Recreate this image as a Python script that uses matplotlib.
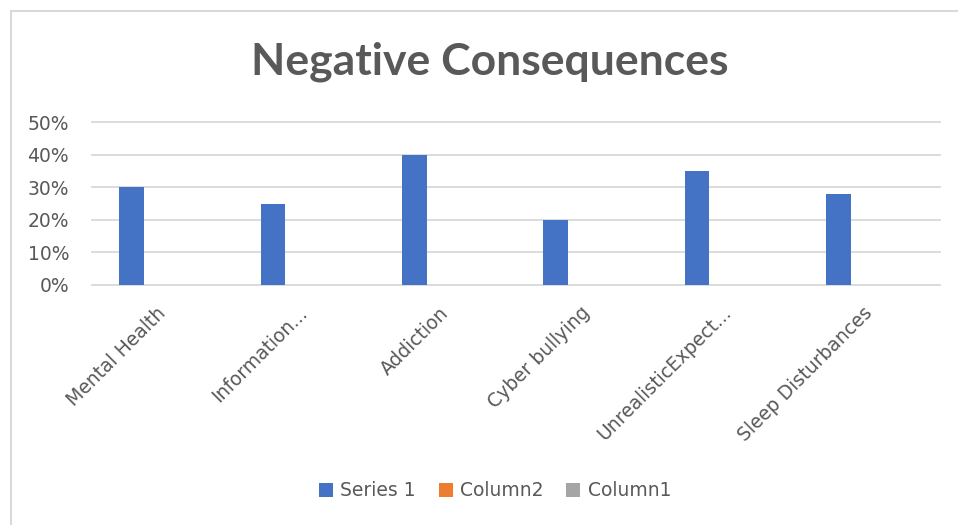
import matplotlib
matplotlib.use('Agg')
import matplotlib.pyplot as plt
from matplotlib.lines import Line2D
from matplotlib.patches import Patch
from matplotlib.ticker import PercentFormatter
import numpy as np

categories = ['Mental Health', 'Information...', 'Addiction', 'Cyber bullying',
              'UnrealisticExpect...', 'Sleep Disturbances']
series1 = [0.30, 0.25, 0.40, 0.20, 0.35, 0.28]
column2 = [0, 0, 0, 0, 0, 0]
column1 = [0, 0, 0, 0, 0, 0]
series_names = ['Series 1', 'Column2', 'Column1']
colors = ['#4472C4', '#ED7D31', '#A5A5A5']
yticks = [0, 0.1, 0.2, 0.3, 0.4, 0.5]

txt = '#595959'
W, H = 958, 525
fig = plt.figure(figsize=(W / 100, H / 100), dpi=100)
ax = fig.add_axes([92 / W, 1 - 285 / H, (940 - 92) / W, (285 - 122) / H])

x = np.arange(len(categories))
bw = 0.175
off = 0.22
for i, vals in enumerate([series1, column2, column1]):
    ax.bar(x + (i - 1) * off, vals, width=bw, color=colors[i], zorder=3, linewidth=0)

ax.set_xlim(-0.5, len(categories) - 0.5)
ax.set_ylim(0, 0.5)
ax.set_yticks(yticks)
ax.yaxis.set_major_formatter(PercentFormatter(1.0, decimals=0))
ax.grid(axis='y', color='#D9D9D9', linewidth=1.3, zorder=0)
for gl in ax.get_ygridlines():
    gl.set_clip_on(False)
for s in ax.spines.values():
    s.set_visible(False)
ax.tick_params(axis='both', length=0, colors=txt, labelsize=13.5)
ax.tick_params(axis='y', pad=16.5)
ax.set_xticks(x)
ax.set_xticklabels(categories, rotation=45, ha='right', va='center',
                   rotation_mode='anchor')
ax.tick_params(axis='x', pad=18)

fig.text(490 / W, 1 - 62 / H, 'Negative Consequences', ha='center', va='center',
         fontsize=32, fontweight='bold', color=txt, family=['Lato', 'DejaVu Sans'])

handles = [Patch(facecolor=c, edgecolor='none') for c in colors]
fig.legend(handles, series_names, loc='center', bbox_to_anchor=(495 / W, 1 - 491 / H),
           ncol=3, frameon=False, fontsize=13.5, labelcolor=txt,
           handlelength=0.75, handleheight=0.75, handletextpad=0.4, columnspacing=1.2)

# chart border (left and top edges visible)
fig.add_artist(Line2D([10.5 / W, 10.5 / W], [0, 1 - 10.5 / H], color='#D9D9D9', lw=1.5))
fig.add_artist(Line2D([10.5 / W, 1], [1 - 10.5 / H, 1 - 10.5 / H], color='#D9D9D9', lw=1.5))

fig.savefig('out.png', dpi=100)
